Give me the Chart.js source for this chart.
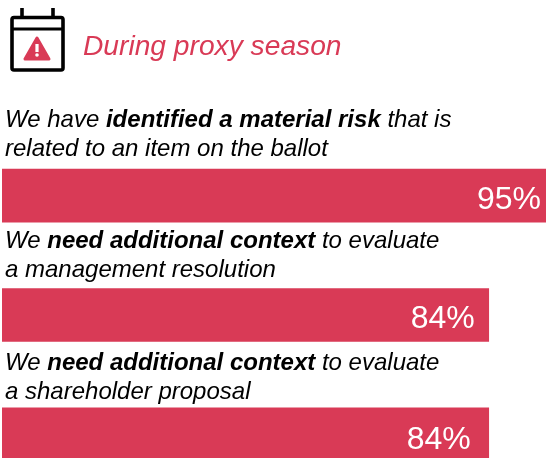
<!DOCTYPE html>
<html>
<head>
<meta charset="utf-8">
<script src="https://cdn.jsdelivr.net/npm/chart.js@4"></script>
<style>
  html, body { margin: 0; padding: 0; background: #fff; overflow: hidden; }
  #wrap { position: relative; width: 546px; height: 458px; overflow: hidden; font-family: "Liberation Sans", Arial, sans-serif; }
  /* the last bar runs off the bottom of the picture, so the canvas is taller than the window */
  #canvas_box { position: absolute; left: 0; top: 0; width: 546px; height: 494px; }
  #icon { position: absolute; left: 0; top: 0; }
  #title { position: absolute; left: 83px; top: 29px; font-size: 28.2px; line-height: 32px; font-style: italic; color: #d93a56; white-space: nowrap; }
  .caption { position: absolute; left: 5px; font-size: 24px; line-height: 29px; font-style: italic; color: #000; white-space: nowrap; }
</style>
</head>
<body>
<div id="wrap">
  <div id="canvas_box"><canvas id="proxy_chart"></canvas></div>
  <svg id="icon" width="75" height="80" viewBox="0 0 75 80">
    <path d="M22 8V18M53 8V18" stroke="#000" stroke-width="3.6" fill="none"/>
    <rect x="12" y="17.5" width="51" height="52.5" rx="2" stroke="#000" stroke-width="3.6" fill="none"/>
    <path d="M12 29H63" stroke="#000" stroke-width="3.2" fill="none"/>
    <path d="M37 38L49 59H25Z" fill="#d93a56" stroke="#d93a56" stroke-width="3" stroke-linejoin="round"/>
    <rect x="35.4" y="44" width="3.2" height="8" fill="#fff"/>
    <circle cx="37" cy="55" r="1.8" fill="#fff"/>
  </svg>
  <div id="title"></div>
</div>
<script>
const title = 'During proxy season';

const categories = [
  'We have <b>identified a material risk</b> that is<br>related to an item on the ballot',
  'We <b>need additional context</b> to evaluate<br>a management resolution',
  'We <b>need additional context</b> to evaluate<br>a shareholder proposal'
];

// bar lengths as drawn in the picture; the printed labels are kept apart,
// the 84% bars are drawn a little longer than their label says
const bar_lengths = [95, 85, 85];
const value_labels = ['95%', '84%', '84%'];

const caption_tops = [104, 225, 347];
const label_insets = [5, 14, 18];
const label_drops = [5, 4, 6];
const red = '#d93a56';

document.getElementById('title').textContent = title;
categories.forEach(function (text, i) {
  const div = document.createElement('div');
  div.className = 'caption';
  div.style.top = caption_tops[i] + 'px';
  div.innerHTML = text;
  document.getElementById('wrap').appendChild(div);
});

const value_label_plugin = {
  id: 'value_labels',
  afterDatasetsDraw: function (chart) {
    const ctx = chart.ctx;
    ctx.save();
    ctx.fillStyle = '#fff';
    ctx.font = '32px "Liberation Sans", Arial, sans-serif';
    ctx.textAlign = 'right';
    ctx.textBaseline = 'middle';
    chart.getDatasetMeta(0).data.forEach(function (bar, i) {
      ctx.fillText(value_labels[i], bar.x - label_insets[i], bar.y + label_drops[i]);
    });
    ctx.restore();
  }
};

const data = {
  labels: categories,
  datasets: [{
    data: bar_lengths,
    backgroundColor: red,
    borderWidth: 0,
    barThickness: 53
  }]
};

const config = {
  type: 'bar',
  data: data,
  plugins: [value_label_plugin],
  options: {
    indexAxis: 'y',
    responsive: false,
    animation: false,
    devicePixelRatio: 1,
    layout: { padding: { left: 2, top: 136, right: 0, bottom: 0 } },
    plugins: { legend: { display: false }, tooltip: { enabled: false } },
    scales: {
      x: { display: false, min: 0, max: 95 },
      y: { display: false }
    }
  }
};

const canvas = document.getElementById('proxy_chart');
canvas.width = 546;
canvas.height = 494;
const proxy_chart = new Chart(canvas.getContext('2d'), config);
</script>
</body>
</html>
